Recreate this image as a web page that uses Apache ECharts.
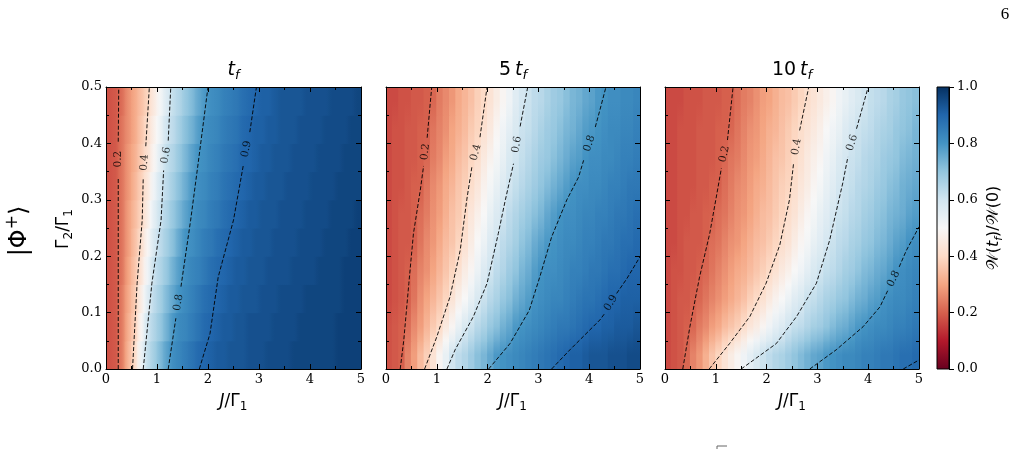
<!DOCTYPE html>
<html>
<head>
<meta charset="utf-8">
<script src="https://cdn.jsdelivr.net/npm/echarts@6/dist/echarts.min.js"></script>
<style>
html,body{margin:0;padding:0;background:#fff;}
#chart{width:1019px;height:449px;}
</style>
</head>
<body>
<div id="chart"></div>
<script>
// cell centres (J/Gamma1 columns, Gamma2/Gamma1 rows)
var jCells = [0.0625,0.1875,0.3125,0.4375,0.5625,0.6875,0.8125,0.9375,1.0625,1.1875,
  1.3125,1.4375,1.5625,1.6875,1.8125,1.9375,2.0625,2.1875,2.3125,2.4375,
  2.5625,2.6875,2.8125,2.9375,3.0625,3.1875,3.3125,3.4375,3.5625,3.6875,
  3.8125,3.9375,4.0625,4.1875,4.3125,4.4375,4.5625,4.6875,4.8125,4.9375];
var gCells = [0.025,0.075,0.125,0.175,0.225,0.275,0.325,0.375,0.425,0.475];

// W(t)/W(0), one row per Gamma2 cell, bottom row first
var w1 = [
  [0.18,0.19,0.24,0.33,0.40,0.53,0.62,0.67,0.72,0.77, 0.81,0.83,0.85,0.87,0.89,0.90,0.91,0.92,0.92,0.93, 0.93,0.93,0.94,0.94,0.94,0.95,0.95,0.95,0.95,0.96, 0.96,0.96,0.96,0.96,0.96,0.96,0.97,0.97,0.97,0.97],
  [0.18,0.19,0.24,0.32,0.38,0.49,0.60,0.65,0.69,0.74, 0.79,0.82,0.83,0.85,0.87,0.89,0.90,0.91,0.92,0.92, 0.93,0.93,0.94,0.94,0.94,0.94,0.95,0.95,0.95,0.95, 0.96,0.96,0.96,0.96,0.96,0.96,0.97,0.97,0.97,0.97],
  [0.18,0.19,0.24,0.31,0.37,0.46,0.56,0.63,0.67,0.72, 0.76,0.80,0.82,0.84,0.86,0.88,0.89,0.90,0.91,0.92, 0.92,0.93,0.93,0.93,0.94,0.94,0.94,0.95,0.95,0.95, 0.95,0.96,0.96,0.96,0.96,0.96,0.96,0.97,0.97,0.97],
  [0.18,0.19,0.23,0.30,0.36,0.43,0.52,0.61,0.65,0.69, 0.74,0.78,0.81,0.83,0.84,0.86,0.88,0.89,0.90,0.91, 0.92,0.92,0.93,0.93,0.93,0.94,0.94,0.94,0.94,0.95, 0.95,0.95,0.95,0.96,0.96,0.96,0.96,0.97,0.97,0.97],
  [0.18,0.19,0.23,0.29,0.35,0.41,0.49,0.58,0.63,0.67, 0.71,0.76,0.80,0.81,0.83,0.85,0.86,0.88,0.89,0.90, 0.91,0.92,0.92,0.93,0.93,0.93,0.94,0.94,0.94,0.94, 0.95,0.95,0.95,0.95,0.96,0.96,0.96,0.96,0.97,0.97],
  [0.18,0.19,0.23,0.29,0.34,0.39,0.46,0.55,0.61,0.65, 0.69,0.73,0.77,0.80,0.82,0.83,0.85,0.86,0.88,0.89, 0.90,0.91,0.92,0.92,0.93,0.93,0.93,0.94,0.94,0.94, 0.94,0.95,0.95,0.95,0.95,0.96,0.96,0.96,0.96,0.97],
  [0.18,0.19,0.23,0.28,0.33,0.38,0.44,0.52,0.59,0.63, 0.67,0.71,0.75,0.79,0.81,0.82,0.84,0.85,0.87,0.88, 0.89,0.90,0.91,0.92,0.92,0.93,0.93,0.93,0.94,0.94, 0.94,0.94,0.95,0.95,0.95,0.95,0.96,0.96,0.96,0.96],
  [0.18,0.19,0.23,0.28,0.32,0.37,0.42,0.49,0.56,0.62, 0.65,0.69,0.73,0.77,0.80,0.81,0.83,0.84,0.86,0.87, 0.88,0.90,0.90,0.91,0.92,0.92,0.93,0.93,0.93,0.94, 0.94,0.94,0.94,0.95,0.95,0.95,0.95,0.96,0.96,0.96],
  [0.18,0.19,0.23,0.27,0.31,0.36,0.41,0.47,0.53,0.60, 0.63,0.67,0.71,0.74,0.78,0.81,0.82,0.83,0.85,0.86, 0.87,0.89,0.90,0.91,0.91,0.92,0.92,0.93,0.93,0.93, 0.94,0.94,0.94,0.94,0.95,0.95,0.95,0.95,0.96,0.96],
  [0.18,0.19,0.22,0.27,0.31,0.35,0.39,0.45,0.51,0.57, 0.62,0.65,0.69,0.72,0.76,0.79,0.81,0.82,0.84,0.85, 0.86,0.88,0.89,0.90,0.91,0.91,0.92,0.93,0.93,0.93, 0.93,0.94,0.94,0.94,0.94,0.95,0.95,0.95,0.95,0.96]
];
var w5 = [
  [0.18,0.19,0.20,0.25,0.29,0.34,0.38,0.43,0.49,0.54, 0.60,0.63,0.65,0.68,0.71,0.73,0.76,0.79,0.80,0.81, 0.82,0.83,0.84,0.85,0.86,0.87,0.88,0.89,0.90,0.91, 0.91,0.92,0.93,0.93,0.93,0.94,0.94,0.94,0.95,0.95],
  [0.18,0.19,0.20,0.22,0.26,0.29,0.33,0.37,0.40,0.45, 0.49,0.54,0.58,0.61,0.64,0.66,0.69,0.71,0.74,0.76, 0.79,0.80,0.81,0.82,0.83,0.84,0.85,0.86,0.86,0.87, 0.88,0.89,0.90,0.90,0.91,0.91,0.92,0.92,0.92,0.93],
  [0.17,0.18,0.19,0.20,0.23,0.27,0.30,0.33,0.36,0.39, 0.43,0.47,0.50,0.54,0.58,0.61,0.64,0.66,0.69,0.71, 0.74,0.76,0.78,0.80,0.81,0.82,0.83,0.83,0.84,0.85, 0.86,0.87,0.87,0.88,0.89,0.90,0.90,0.91,0.91,0.91],
  [0.17,0.18,0.19,0.20,0.22,0.25,0.27,0.30,0.33,0.36, 0.39,0.42,0.46,0.49,0.53,0.57,0.60,0.63,0.65,0.68, 0.70,0.73,0.75,0.78,0.80,0.81,0.81,0.82,0.83,0.84, 0.84,0.85,0.86,0.86,0.87,0.88,0.88,0.89,0.90,0.90],
  [0.17,0.18,0.19,0.19,0.20,0.23,0.26,0.28,0.31,0.34, 0.36,0.39,0.42,0.46,0.50,0.53,0.57,0.60,0.63,0.65, 0.67,0.70,0.72,0.75,0.77,0.79,0.80,0.81,0.82,0.82, 0.83,0.84,0.84,0.85,0.86,0.86,0.87,0.88,0.88,0.89],
  [0.17,0.18,0.19,0.19,0.20,0.22,0.24,0.27,0.29,0.32, 0.35,0.37,0.40,0.44,0.47,0.50,0.54,0.57,0.60,0.63, 0.65,0.67,0.69,0.71,0.73,0.76,0.78,0.80,0.81,0.81, 0.82,0.83,0.83,0.84,0.84,0.85,0.86,0.86,0.87,0.88],
  [0.17,0.18,0.18,0.19,0.20,0.20,0.23,0.26,0.28,0.31, 0.33,0.36,0.38,0.41,0.44,0.48,0.51,0.54,0.57,0.60, 0.62,0.64,0.66,0.68,0.70,0.72,0.74,0.76,0.78,0.80, 0.81,0.81,0.82,0.82,0.83,0.84,0.84,0.85,0.86,0.86],
  [0.17,0.18,0.18,0.19,0.19,0.20,0.21,0.24,0.26,0.29, 0.31,0.34,0.36,0.39,0.41,0.45,0.48,0.51,0.54,0.58, 0.60,0.62,0.64,0.66,0.68,0.69,0.71,0.73,0.75,0.77, 0.78,0.80,0.81,0.81,0.82,0.82,0.83,0.84,0.84,0.85],
  [0.17,0.18,0.18,0.19,0.19,0.20,0.20,0.23,0.25,0.27, 0.30,0.32,0.34,0.37,0.39,0.42,0.45,0.49,0.52,0.55, 0.58,0.61,0.62,0.64,0.66,0.68,0.69,0.71,0.73,0.74, 0.76,0.78,0.79,0.80,0.81,0.82,0.82,0.83,0.83,0.84],
  [0.17,0.17,0.18,0.18,0.19,0.19,0.20,0.21,0.24,0.26, 0.28,0.31,0.33,0.35,0.38,0.40,0.43,0.46,0.49,0.52, 0.56,0.59,0.61,0.63,0.64,0.66,0.68,0.69,0.71,0.73, 0.74,0.76,0.77,0.79,0.80,0.81,0.81,0.82,0.82,0.83]
];
var w10 = [
  [0.17,0.18,0.19,0.21,0.25,0.28,0.32,0.36,0.39,0.43, 0.46,0.49,0.52,0.55,0.58,0.61,0.63,0.65,0.66,0.68, 0.70,0.72,0.74,0.76,0.77,0.79,0.80,0.81,0.82,0.82, 0.83,0.84,0.84,0.85,0.86,0.86,0.87,0.88,0.88,0.89],
  [0.17,0.18,0.19,0.20,0.21,0.24,0.26,0.29,0.31,0.34, 0.36,0.38,0.41,0.44,0.46,0.49,0.52,0.55,0.57,0.60, 0.62,0.63,0.65,0.67,0.68,0.70,0.72,0.74,0.75,0.77, 0.79,0.80,0.81,0.82,0.82,0.83,0.84,0.84,0.85,0.86],
  [0.17,0.18,0.19,0.19,0.20,0.21,0.23,0.25,0.27,0.29, 0.31,0.33,0.35,0.38,0.40,0.42,0.45,0.48,0.50,0.53, 0.56,0.58,0.61,0.62,0.64,0.66,0.67,0.69,0.70,0.72, 0.74,0.75,0.77,0.78,0.80,0.81,0.82,0.82,0.83,0.84],
  [0.17,0.18,0.18,0.19,0.19,0.20,0.21,0.23,0.25,0.27, 0.29,0.31,0.32,0.34,0.36,0.38,0.40,0.42,0.45,0.47, 0.50,0.52,0.55,0.58,0.60,0.62,0.63,0.65,0.67,0.68, 0.70,0.72,0.73,0.75,0.76,0.78,0.80,0.81,0.82,0.83],
  [0.17,0.17,0.18,0.19,0.19,0.19,0.20,0.22,0.23,0.25, 0.27,0.28,0.30,0.32,0.34,0.35,0.37,0.39,0.41,0.43, 0.46,0.49,0.51,0.54,0.56,0.59,0.61,0.63,0.64,0.66, 0.67,0.69,0.70,0.72,0.73,0.75,0.77,0.78,0.80,0.81],
  [0.17,0.17,0.18,0.18,0.19,0.19,0.20,0.20,0.22,0.23, 0.25,0.27,0.28,0.30,0.32,0.34,0.35,0.37,0.39,0.41, 0.43,0.46,0.49,0.51,0.54,0.56,0.59,0.61,0.62,0.64, 0.65,0.67,0.68,0.70,0.71,0.73,0.74,0.75,0.77,0.78],
  [0.17,0.17,0.18,0.18,0.18,0.19,0.19,0.20,0.20,0.22, 0.24,0.26,0.27,0.29,0.31,0.32,0.34,0.36,0.38,0.39, 0.41,0.44,0.46,0.49,0.51,0.54,0.56,0.59,0.61,0.62, 0.64,0.65,0.66,0.68,0.69,0.71,0.72,0.74,0.75,0.76],
  [0.17,0.17,0.18,0.18,0.18,0.19,0.19,0.19,0.20,0.21, 0.23,0.24,0.26,0.28,0.29,0.31,0.33,0.35,0.36,0.38, 0.40,0.42,0.45,0.47,0.49,0.52,0.54,0.57,0.59,0.61, 0.62,0.64,0.65,0.66,0.68,0.69,0.70,0.72,0.73,0.74],
  [0.17,0.17,0.18,0.18,0.18,0.19,0.19,0.19,0.20,0.20, 0.21,0.23,0.25,0.27,0.28,0.30,0.32,0.33,0.35,0.37, 0.39,0.41,0.43,0.45,0.47,0.50,0.52,0.54,0.57,0.59, 0.61,0.62,0.63,0.65,0.66,0.67,0.69,0.70,0.71,0.73],
  [0.17,0.17,0.17,0.18,0.18,0.18,0.19,0.19,0.19,0.20, 0.20,0.22,0.24,0.25,0.27,0.29,0.30,0.32,0.34,0.35, 0.37,0.39,0.41,0.43,0.45,0.47,0.49,0.52,0.54,0.56, 0.58,0.60,0.62,0.63,0.64,0.66,0.67,0.69,0.70,0.71]
];

// contour levels, traced points [J, G] (null = gap for the inline label)
var levels = ['0.2', '0.4', '0.6', '0.8', '0.9'];
var cont1 = [
  [[0.24,0],[0.24,0.15],[0.24,0.338],null,[0.24,0.403],[0.25,0.5]],
  [[0.52,0],[0.61,0.152],[0.71,0.264],[0.73,0.338],null,[0.78,0.395],[0.85,0.5]],
  [[0.73,0],[0.9,0.152],[1.08,0.264],[1.13,0.352],null,[1.22,0.405],[1.27,0.5]],
  [[1.22,0],[1.37,0.09],null,[1.47,0.146],[1.66,0.264],[1.8,0.36],[2.0,0.5]],
  [[1.83,0],[2.04,0.063],[2.2,0.163],[2.5,0.264],[2.69,0.36],null,[2.82,0.42],[2.95,0.5]]
];
var lab1 = [[0.24,0.372],[0.755,0.366],[1.175,0.379],[1.42,0.118],[2.755,0.39]];
var cont5 = [
  [[0.28,0],[0.35,0.051],[0.45,0.152],[0.54,0.24],[0.675,0.317],[0.74,0.36],null,[0.81,0.41],[0.9,0.5]],
  [[0.76,0],[1.0,0.057],[1.26,0.128],[1.46,0.21],[1.59,0.3],[1.69,0.358],null,[1.85,0.411],[1.99,0.5]],
  [[1.2,0],[1.36,0.034],[1.72,0.093],[1.99,0.152],[2.21,0.24],[2.35,0.3],[2.51,0.364],null,[2.64,0.43],[2.79,0.5]],
  [[2.02,0],[2.44,0.045],[2.82,0.104],[3.03,0.164],[3.26,0.234],[3.56,0.3],[3.79,0.34],[3.89,0.37],null,[4.12,0.429],[4.21,0.459],[4.33,0.5]],
  [[3.26,0],[3.62,0.034],[4.21,0.087],[4.31,0.099],null,[4.54,0.134],[4.74,0.16],[5.0,0.199]]
];
var lab5 = [[0.775,0.385],[1.77,0.384],[2.575,0.398],[4.005,0.4],[4.425,0.117]];
var cont10 = [
  [[0.35,0],[0.49,0.075],[0.68,0.163],[0.88,0.24],[1.0,0.3],[1.11,0.356],null,[1.23,0.406],[1.34,0.5]],
  [[0.87,0],[1.27,0.045],[1.67,0.093],[1.99,0.152],[2.26,0.22],[2.45,0.3],[2.53,0.364],null,[2.65,0.423],[2.83,0.5]],
  [[1.5,0],[2.19,0.045],[2.59,0.093],[2.98,0.152],[3.24,0.228],[3.5,0.33],[3.6,0.376],null,[3.77,0.426],[4.0,0.5]],
  [[2.85,0],[3.37,0.034],[3.9,0.075],[4.23,0.11],[4.39,0.14],null,[4.61,0.181],[4.75,0.21],[5.0,0.252]],
  [[4.69,0],[5.0,0.016]]
];
var lab10 = [[1.17,0.381],[2.59,0.394],[3.685,0.401],[4.5,0.16],null];

// matplotlib RdBu
var rdbu = ['#67001f','#b2182b','#d6604d','#f4a582','#fddbc7','#f7f7f7',
  '#d1e5f0','#92c5de','#4393c3','#2166ac','#053061'];

var serif = 'DejaVu Serif', sans = 'DejaVu Sans', blk = '#000';
var boxes = [
  {left: 106, top: 87, width: 255, height: 282},
  {left: 386, top: 87, width: 254, height: 282},
  {left: 665, top: 87, width: 254, height: 282}
];
// shade: direction the cell colours are blended in (along J for the first panel)
var panels = [
  {w: w1, cont: cont1, lab: lab1, shade: 'x', title: '{i|t}{si|f}'},
  {w: w5, cont: cont5, lab: lab5, shade: 'y', title: '{n|5\u2009}{i|t}{si|f}'},
  {w: w10, cont: cont10, lab: lab10, shade: 'y', title: '{n|10\u2009}{i|t}{si|f}'}
];

function valueAxis(grid, pos, showLabel, isX) {
  return {
    type: 'value', gridIndex: grid, position: pos, z: 5,
    min: 0, max: isX ? 5 : 0.5, interval: isX ? 1 : 0.1,
    axisLine: {show: true, onZero: false, lineStyle: {color: blk, width: 1}},
    axisTick: {show: true, inside: true, length: 5, lineStyle: {color: blk, width: 1}},
    minorTick: {show: true, splitNumber: 2, length: 3, lineStyle: {color: blk, width: 1}},
    axisLabel: {
      show: showLabel, margin: 4, color: blk, fontFamily: serif, fontSize: 13,
      showMinLabel: true, showMaxLabel: true,
      formatter: function (v) { return isX ? v.toFixed(0) : v.toFixed(1); }
    },
    splitLine: {show: false},
    minorSplitLine: {show: false}
  };
}

function cells(w) {
  var out = [];
  w.forEach(function (row, r) {
    row.forEach(function (v, c) { out.push([c, r, v]); });
  });
  return out;
}

// one rect per cell (padded half a pixel against seams), shaded gouraud-style
// towards its neighbours along one direction
function cellRenderer(w, dir) {
  return function (params, api) {
    var col = api.value(0), row = api.value(1), v = api.value(2);
    var a, b, grad;
    if (dir === 'x') {
      a = col > 0 ? (v + w[row][col - 1]) / 2 : v;
      b = col < w[row].length - 1 ? (v + w[row][col + 1]) / 2 : v;
      grad = {x: 0, y: 0, x2: 1, y2: 0};
    } else {
      a = row < w.length - 1 ? (v + w[row + 1][col]) / 2 : v;
      b = row > 0 ? (v + w[row - 1][col]) / 2 : v;
      grad = {x: 0, y: 0, x2: 0, y2: 1};
    }
    var c = api.coord([col, row]);
    var s = api.size([1, 1]);
    grad.type = 'linear';
    grad.colorStops = [
      {offset: 0, color: echarts.color.lerp(a, rdbu)},
      {offset: 0.5, color: api.visual('color')},
      {offset: 1, color: echarts.color.lerp(b, rdbu)}
    ];
    return {
      type: 'rect',
      shape: {x: c[0] - s[0] / 2 - 0.5, y: c[1] - s[1] / 2 - 0.5, width: s[0] + 1, height: s[1] + 1},
      style: {fill: grad}
    };
  };
}

function mathRich(fs) {
  var lh = Math.round(fs * 1.3), ss = Math.round(fs * 0.7);
  return {
    n: {fontFamily: sans, fontSize: fs, lineHeight: lh, fill: blk, color: blk},
    i: {fontFamily: sans, fontStyle: 'italic', fontSize: fs, lineHeight: lh, fill: blk, color: blk},
    s: {fontFamily: sans, fontSize: ss, lineHeight: ss, verticalAlign: 'bottom', fill: blk, color: blk},
    si: {fontFamily: sans, fontStyle: 'italic', fontSize: ss, lineHeight: ss, verticalAlign: 'bottom', fill: blk, color: blk},
    p: {fontFamily: sans, fontSize: ss, lineHeight: ss, verticalAlign: 'top', fill: blk, color: blk}
  };
}

function txt(x, y, text, rich, rot, font) {
  return {
    type: 'text', x: x, y: y, rotation: rot || 0, z: 10,
    style: {
      text: text, rich: rich, font: font, fill: blk,
      align: 'center', verticalAlign: 'middle',
      textAlign: 'center', textVerticalAlign: 'middle'
    }
  };
}

var grids = [], xAxes = [], yAxes = [], series = [], graphics = [];

panels.forEach(function (p, k) {
  var b = boxes[k];
  grids.push({left: b.left, top: b.top, width: b.width, height: b.height, outerBoundsMode: 'none'});
  grids.push({left: b.left, top: b.top, width: b.width, height: b.height, outerBoundsMode: 'none'});
  xAxes.push({type: 'category', gridIndex: 2 * k, data: jCells, show: false});
  xAxes.push(valueAxis(2 * k + 1, 'bottom', true, true));
  xAxes.push(valueAxis(2 * k + 1, 'top', false, true));
  yAxes.push({type: 'category', gridIndex: 2 * k, data: gCells, show: false});
  yAxes.push(valueAxis(2 * k + 1, 'left', k === 0, false));
  yAxes.push(valueAxis(2 * k + 1, 'right', false, false));
  series.push({
    type: 'custom', xAxisIndex: 3 * k, yAxisIndex: 3 * k, data: cells(p.w),
    z: 1, silent: true, clip: true, encode: {x: 0, y: 1}, renderItem: cellRenderer(p.w, p.shade)
  });
});

panels.forEach(function (p, k) {
  var b = boxes[k], labs = [];
  p.cont.forEach(function (pts, i) {
    series.push({
      type: 'line', xAxisIndex: 3 * k + 1, yAxisIndex: 3 * k + 1, z: 3,
      symbol: 'none', silent: true, connectNulls: false,
      lineStyle: {color: blk, width: 0.9, type: [4, 2]},
      data: pts.map(function (q) { return q ? q : ['-', '-']; })
    });
    var at = p.lab[i];
    if (!at) return;
    // label follows the direction of the line across its gap
    var g = pts.indexOf(null), a = pts[g - 1], c = pts[g + 1];
    var dx = (c[0] - a[0]) * b.width / 5, dy = (c[1] - a[1]) * b.height / 0.5;
    labs.push({value: at, label: {formatter: levels[i], rotate: Math.atan2(dy, dx) * 180 / Math.PI}});
  });
  series.push({
    type: 'scatter', xAxisIndex: 3 * k + 1, yAxisIndex: 3 * k + 1, z: 4, silent: true,
    symbolSize: 1, itemStyle: {color: 'rgba(0,0,0,0)'},
    label: {show: true, position: 'inside', color: blk, fontFamily: serif, fontSize: 10.5},
    data: labs
  });

  var cx = b.left + b.width / 2;
  graphics.push(txt(cx, 70, p.title, mathRich(19)));
  graphics.push(txt(cx, 402, '{i|J}{n|/Γ}{s|1}', mathRich(17)));
});

// colour bar
grids.push({left: 937, top: 87, width: 12, height: 282, outerBoundsMode: 'none'});
xAxes.push({type: 'value', gridIndex: 6, show: false, min: 0, max: 1});
yAxes.push({
  type: 'value', gridIndex: 6, position: 'right', min: 0, max: 1, interval: 0.2, z: 5,
  axisLine: {show: true, onZero: false, lineStyle: {color: blk, width: 1}},
  axisTick: {show: true, inside: false, length: 5, lineStyle: {color: blk, width: 1}},
  axisLabel: {
    margin: 8, color: blk, fontFamily: serif, fontSize: 13, showMinLabel: true, showMaxLabel: true,
    formatter: function (v) { return v.toFixed(1); }
  },
  splitLine: {show: false}
});
series.push({type: 'scatter', xAxisIndex: 9, yAxisIndex: 9, data: [], silent: true});

graphics.push({
  type: 'rect', z: 4, shape: {x: 937, y: 87, width: 12, height: 282},
  style: {
    stroke: blk, lineWidth: 1,
    fill: {
      type: 'linear', x: 0, y: 1, x2: 0, y2: 0,
      colorStops: rdbu.map(function (c, i) { return {offset: i / 10, color: c}; })
    }
  }
});

graphics.push(txt(64, 229, '{n|Γ}{s|2}{n|/Γ}{s|1}', mathRich(17), Math.PI / 2));
graphics.push(txt(20, 231, '{n||Φ}{p|+}{n|⟩}', mathRich(24), Math.PI / 2));
graphics.push(txt(994, 228, '{n|𝒲(}{i|t}{si|f}{n|)/𝒲(0)}', mathRich(16), Math.PI / 2));
graphics.push(txt(1005, 15, '6', null, 0, '17px "Liberation Serif"'));
graphics.push({
  type: 'polyline', z: 4, shape: {points: [[717, 449], [717, 446], [727, 446]]},
  style: {stroke: '#666', lineWidth: 1, fill: null}
});

var chart = echarts.init(document.getElementById('chart'));
chart.setOption({
  animation: false,
  backgroundColor: '#fff',
  grid: grids,
  xAxis: xAxes,
  yAxis: yAxes,
  visualMap: {
    type: 'continuous', show: false, min: 0, max: 1, dimension: 2, seriesIndex: [0, 1, 2],
    inRange: {color: rdbu}
  },
  graphic: {elements: graphics},
  series: series
});
</script>
</body>
</html>
